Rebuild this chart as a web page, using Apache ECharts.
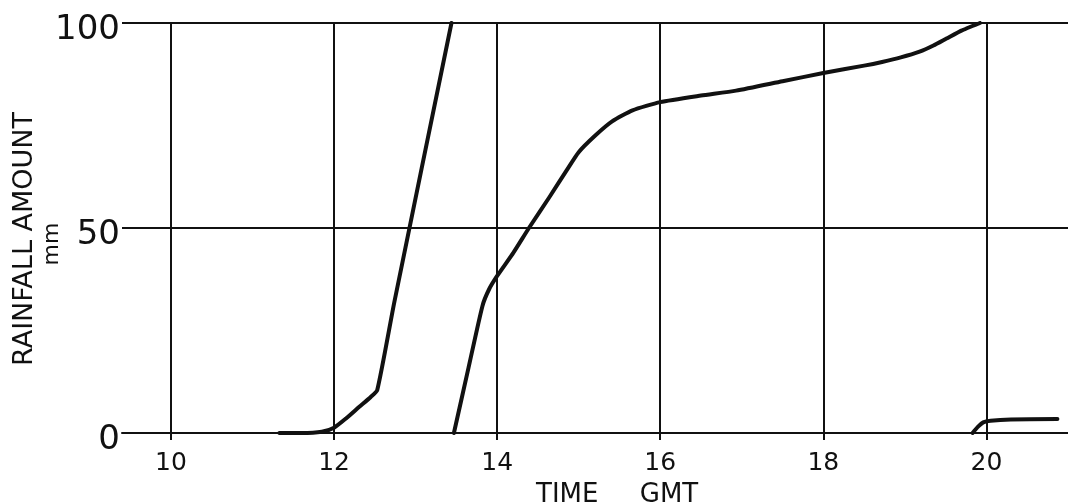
<!DOCTYPE html>
<html>
<head>
<meta charset="utf-8">
<script src="https://cdn.jsdelivr.net/npm/echarts@6/dist/echarts.min.js"></script>
<style>
html,body{margin:0;padding:0;background:#fff;}
#chart{width:1068px;height:503px;}
</style>
</head>
<body>
<div id="chart"></div>
<script>
// Tick labels
const xTicks = [10, 12, 14, 16, 18, 20];
const yTicks = [0, 50, 100];

// Trace 1 (first siphon fill)
const time1 = [11.33, 11.6, 11.85, 12.0, 12.15, 12.31, 12.45, 12.53, 12.74, 13.44];
const rain1 = [0, 0, 0.3, 1.3, 3.6, 6.4, 8.8, 10.5, 32, 100];

// Trace 2 (second fill)
const time2 = [13.47, 13.65, 13.82, 13.9, 14.0, 14.2, 14.39, 14.64, 14.85, 15.0, 15.2, 15.41, 15.66, 16.0, 16.5, 16.93, 17.5, 18.0, 18.5, 18.72, 18.95, 19.18, 19.35, 19.51, 19.7, 19.92];
const rain2 = [0, 16, 31, 35, 38.3, 44, 50, 57.5, 64, 68.5, 72.5, 76, 78.7, 80.7, 82.3, 83.5, 85.8, 87.8, 89.6, 90.5, 91.6, 93, 94.5, 96.2, 98.2, 100];

// Trace 3 (after reset)
const time3 = [19.83, 19.9, 19.96, 20.05, 20.3, 20.87];
const rain3 = [0, 1.6, 2.6, 3.0, 3.3, 3.4];

const zip = (a, b) => a.map((v, i) => [v, b[i]]);

const chart = echarts.init(document.getElementById('chart'), null, {renderer: 'canvas'});
const lineStyle = {color: '#111', width: 4, cap: 'round', join: 'round'};
const font = 'DejaVu Sans';

chart.setOption({
  backgroundColor: '#fff',
  animation: false,
  grid: {left: 122, right: 0, top: 23, bottom: 70, containLabel: false, outerBoundsMode: 'none'},
  xAxis: {
    type: 'value',
    min: 9.4,
    max: 21,
    axisLine: {show: true, lineStyle: {color: '#111', width: 2}},
    axisTick: {show: true, customValues: xTicks, length: 7, lineStyle: {color: '#111', width: 2}},
    axisLabel: {show: true, customValues: xTicks, margin: 18, color: '#111', fontSize: 25, fontFamily: font},
    splitLine: {show: true, lineStyle: {color: '#111', width: 2}}
  },
  yAxis: {
    type: 'value',
    min: 0,
    max: 100,
    interval: 50,
    axisLine: {show: false},
    axisTick: {show: false},
    axisLabel: {show: true, margin: 2, color: '#111', fontSize: 34, fontFamily: font, verticalAlign: 'top', lineHeight: 14},
    splitLine: {show: true, lineStyle: {color: '#111', width: 2}}
  },
  graphic: [{
    type: 'text',
    left: 536,
    top: 482,
    style: {text: 'TIME     GMT', font: '26px "DejaVu Sans"', fill: '#111'}
  }, {
    type: 'text',
    x: 25,
    y: 239,
    rotation: Math.PI / 2,
    style: {text: 'RAINFALL AMOUNT', font: '27px "DejaVu Sans"', fill: '#111', align: 'center', verticalAlign: 'middle'}
  }, {
    type: 'text',
    x: 52,
    y: 244,
    rotation: Math.PI / 2,
    style: {text: 'mm', font: '22px "DejaVu Sans"', fill: '#111', align: 'center', verticalAlign: 'middle'}
  }],
  series: [
    {type: 'line', data: zip(time1, rain1), showSymbol: false, smooth: 0.2, lineStyle: lineStyle, z: 5},
    {type: 'line', data: zip(time2, rain2), showSymbol: false, smooth: 0.2, lineStyle: lineStyle, z: 5},
    {type: 'line', data: zip(time3, rain3), showSymbol: false, smooth: 0.3, lineStyle: lineStyle, z: 5}
  ]
});
</script>
</body>
</html>
